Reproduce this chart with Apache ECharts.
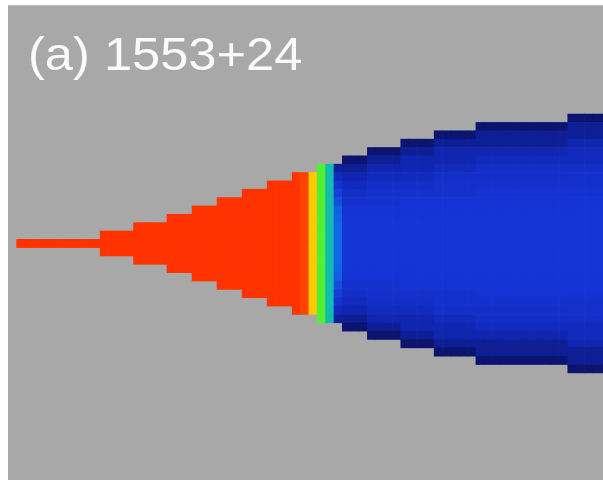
<!DOCTYPE html>
<html>
<head>
<meta charset="utf-8">
<script src="https://cdn.jsdelivr.net/npm/echarts@6/dist/echarts.min.js"></script>
<style>
  html, body { margin: 0; padding: 0; background: #ffffff; }
  #chart { width: 603px; height: 480px; }
</style>
</head>
<body>
<div id="chart"></div>
<script>
// Mesh layout: 72 columns x 57 rows of square cells, jet field on a grey backdrop.
const colCount = 72;
const rowCount = 57;
const centreRow = 28;

// Half-height (in cells) of the filled region in each mesh column; -1 = empty.
const columnHalfRows = [
  -1,
  0, 0, 0, 0, 0, 0, 0, 0, 0, 0,
  1, 1, 1, 1,
  2, 2, 2, 2,
  3, 3, 3,
  4, 4, 4,
  5, 5, 5,
  6, 6, 6,
  7, 7, 7,
  8, 8, 8,
  9, 9, 9,
  10, 10, 10,
  11, 11, 11, 11,
  12, 12, 12, 12,
  13, 13, 13, 13, 13,
  14, 14, 14, 14, 14, 14, 14, 14, 14, 14, 14,
  15, 15, 15, 15, 15
];

// Field level on the axis of each column (0 = low / blue, 10 = high / red).
const columnLevel = [
  10,
  10, 10, 10, 10, 10, 10, 10, 10, 10, 10,
  10, 10, 10, 10,
  10, 10, 10, 10,
  10, 10, 10,
  10, 10, 10,
  10, 10, 10,
  10, 10, 10,
  10, 10, 10,
  10, 9.8, 8.1,
  6.3, 5.1, 4.0,
  3, 3, 3,
  3, 3, 3, 3,
  3, 3, 3, 3,
  3, 3, 3, 3, 3,
  3, 3, 3, 3, 3, 3, 3, 3, 3, 3, 3,
  3, 3, 3, 3, 3
];

// Drop in level of the low (blue) region towards its edges, by tenths of the relative radius.
const radialDarkening = [0, 0, 0, 0.05, 0.15, 0.3, 0.5, 0.8, 1.2, 1.8, 2.7];

// Colour scale for levels 0..10.
const levelColors = [
  '#0a1062', '#0d1c8e', '#1129b8', '#1535d6', '#1068e6',
  '#10b8b8', '#20ee48', '#c8f000', '#ffd000', '#ff8a00', '#ff3300'
];

const titleText = '(a) 1553+24';

const xCats = [];
for (let i = 0; i < colCount; i++) xCats.push(String(i));
const yCats = [];
for (let j = 0; j < rowCount; j++) yCats.push(String(j));

const cells = [];
columnHalfRows.forEach(function (half, c) {
  if (half < 0) return;
  const level = columnLevel[c];
  for (let d = -half; d <= half; d++) {
    let v = level;
    if (level <= 4.5 && half > 0) {
      const bin = Math.round(Math.abs(d) / half * 10);
      v = level - radialDarkening[bin];
    }
    cells.push([c, centreRow + d, v]);
  }
});

const chart = echarts.init(document.getElementById('chart'), null, { renderer: 'canvas' });
chart.setOption({
  animation: false,
  backgroundColor: '#ffffff',
  grid: {
    left: 8, top: 5.2, width: 601.2, height: 475.95,
    outerBoundsMode: 'none',
    containLabel: false,
    show: true, backgroundColor: '#a8a8a8', borderWidth: 0
  },
  xAxis: { type: 'category', data: xCats, show: false },
  yAxis: { type: 'category', data: yCats, show: false, inverse: true },
  visualMap: {
    show: false, type: 'continuous', min: 0, max: 10, dimension: 2,
    inRange: { color: levelColors }
  },
  series: [{
    type: 'custom',
    data: cells,
    encode: { x: 0, y: 1 },
    renderItem: function (params, api) {
      const p = api.coord([api.value(0), api.value(1)]);
      const s = api.size([1, 1]);
      return {
        type: 'rect',
        shape: { x: p[0] - s[0] / 2, y: p[1] - s[1] / 2, width: s[0] + 0.6, height: s[1] + 0.6 },
        style: { fill: api.visual('color') }
      };
    }
  }],
  graphic: [{
    type: 'text',
    x: 28, y: 57,
    scaleX: 1.1,
    style: {
      text: titleText,
      fill: '#fafafa',
      font: '46px "Liberation Sans", Arial, sans-serif',
      verticalAlign: 'middle'
    }
  }]
});
</script>
</body>
</html>
